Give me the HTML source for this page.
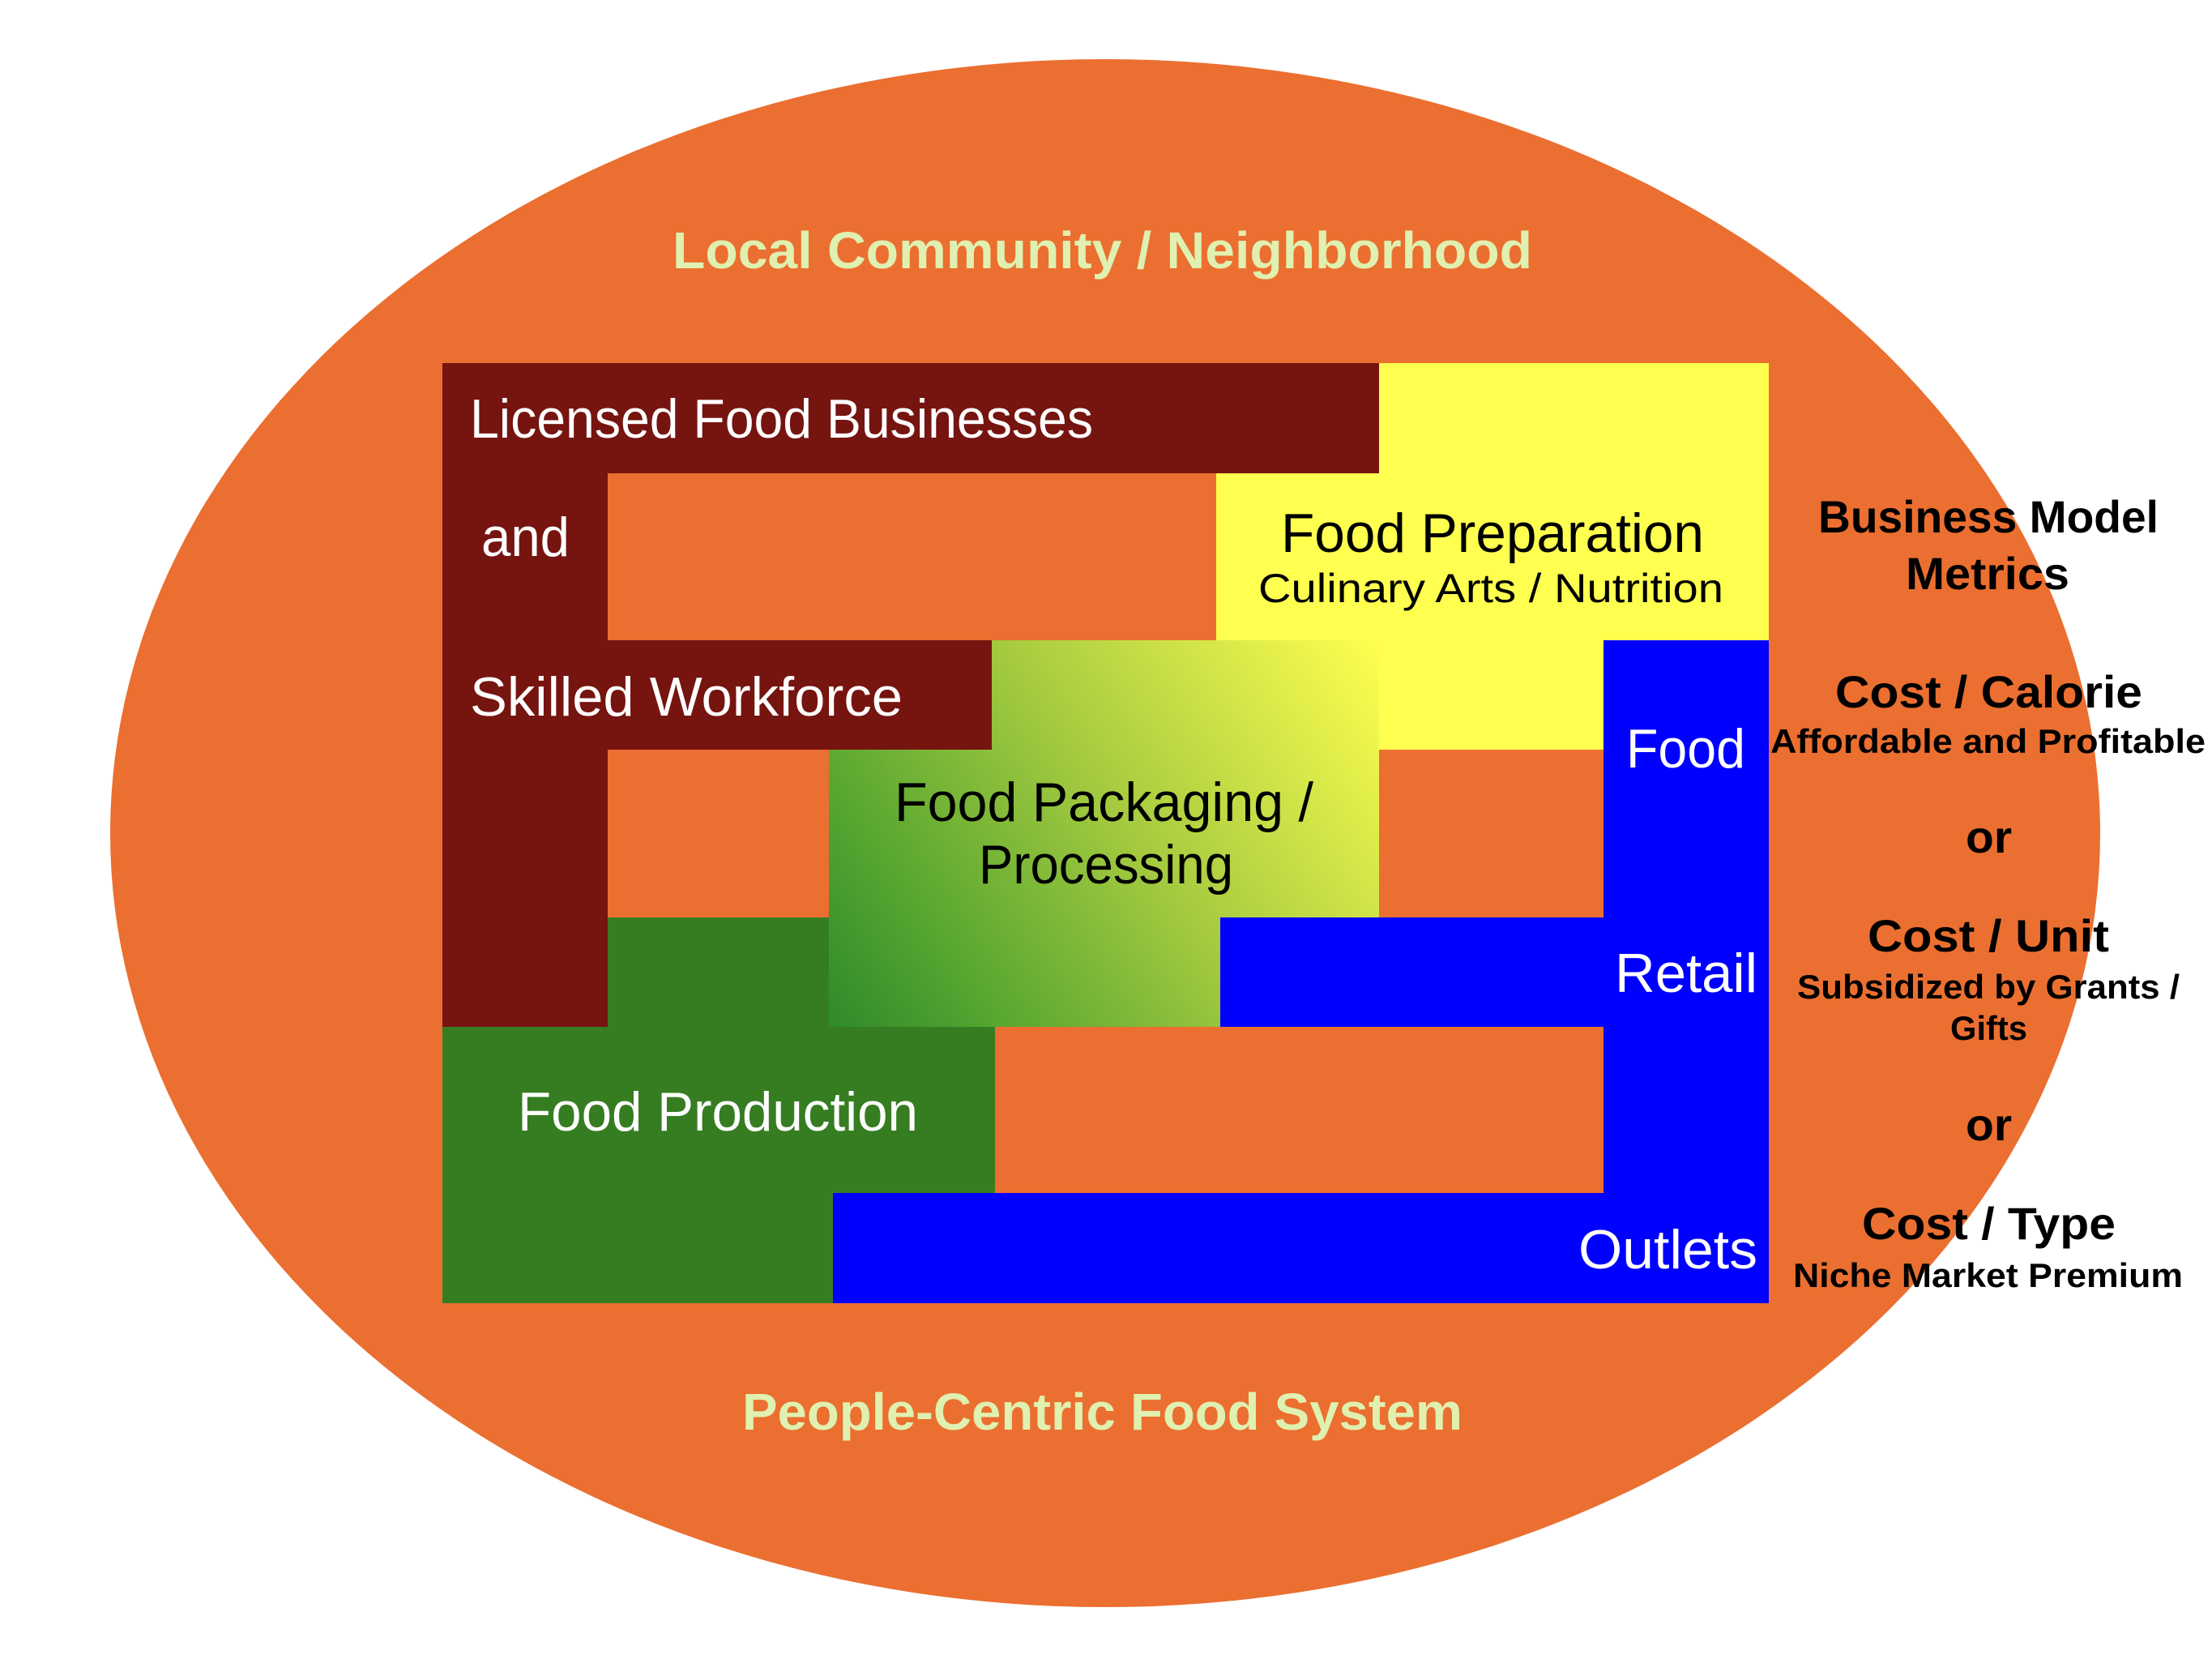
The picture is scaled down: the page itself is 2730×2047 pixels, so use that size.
<!DOCTYPE html>
<html><head><meta charset="utf-8"><style>html,body{margin:0;padding:0;background:#fff}svg{display:block}</style></head>
<body>
<svg width="2730" height="2047" viewBox="0 0 2730 2047" xmlns="http://www.w3.org/2000/svg">
<defs>
<linearGradient id="g" x1="1023" y1="1267" x2="1702" y2="790" gradientUnits="userSpaceOnUse">
<stop offset="0" stop-color="#2f8a2a"/>
<stop offset="0.2" stop-color="#55a530"/>
<stop offset="0.55" stop-color="#a8cc40"/>
<stop offset="1" stop-color="#ffff50"/>
</linearGradient>
</defs>
<ellipse cx="1364" cy="1028" rx="1228" ry="955" fill="#eb6f30"/>
<!-- yellow -->
<rect x="1702" y="448" width="481" height="136" fill="#ffff50"/>
<rect x="1501" y="584" width="682" height="206" fill="#ffff50"/>
<rect x="1702" y="790" width="277" height="135" fill="#ffff50"/>
<!-- gradient -->
<rect x="1023" y="790" width="679" height="477" fill="url(#g)"/>
<!-- dark red -->
<rect x="546" y="448" width="1156" height="136" fill="#761410"/>
<rect x="546" y="448" width="204" height="819" fill="#761410"/>
<rect x="546" y="790" width="678" height="135" fill="#761410"/>
<!-- green -->
<rect x="750" y="1132" width="273" height="135" fill="#367d22"/>
<rect x="546" y="1267" width="682" height="205" fill="#367d22"/>
<rect x="546" y="1472" width="482" height="136" fill="#367d22"/>
<!-- blue -->
<rect x="1979" y="790" width="204" height="818" fill="#0000ff"/>
<rect x="1506" y="1132" width="677" height="135" fill="#0000ff"/>
<rect x="1028" y="1472" width="1155" height="136" fill="#0000ff"/>

<g font-family="Liberation Sans, sans-serif" lengthAdjust="spacingAndGlyphs">
<text x="830" y="331" font-size="64" font-weight="bold" fill="#dff0b0" textLength="1061" lengthAdjust="spacingAndGlyphs">Local Community / Neighborhood</text>
<text x="916" y="1764" font-size="64" font-weight="bold" fill="#dff0b0" textLength="889" lengthAdjust="spacingAndGlyphs">People-Centric Food System</text>

<g fill="#fff" font-size="68">
<text x="580" y="540" textLength="769" lengthAdjust="spacingAndGlyphs">Licensed Food Businesses</text>
<text x="594" y="686" textLength="109" lengthAdjust="spacingAndGlyphs">and</text>
<text x="580" y="883" textLength="534" lengthAdjust="spacingAndGlyphs">Skilled Workforce</text>
<text x="639" y="1395" textLength="494" lengthAdjust="spacingAndGlyphs">Food Production</text>
<text x="2007" y="947" textLength="147" lengthAdjust="spacingAndGlyphs">Food</text>
<text x="1993" y="1224" textLength="176" lengthAdjust="spacingAndGlyphs">Retail</text>
<text x="1948" y="1565" textLength="221" lengthAdjust="spacingAndGlyphs">Outlets</text>
</g>
<g fill="#000">
<text x="1581" y="681" font-size="68" textLength="522" lengthAdjust="spacingAndGlyphs">Food Preparation</text>
<text x="1553" y="743" font-size="50" textLength="574" lengthAdjust="spacingAndGlyphs">Culinary Arts / Nutrition</text>
<text x="1104" y="1013" font-size="68" textLength="517" lengthAdjust="spacingAndGlyphs">Food Packaging /</text>
<text x="1208" y="1090" font-size="68" textLength="314" lengthAdjust="spacingAndGlyphs">Processing</text>
</g>
<g fill="#000" font-weight="bold">
<text x="2244" y="657" font-size="56" textLength="420" lengthAdjust="spacingAndGlyphs">Business Model</text>
<text x="2352" y="727" font-size="56" textLength="202" lengthAdjust="spacingAndGlyphs">Metrics</text>
<text x="2265" y="873" font-size="56" textLength="379" lengthAdjust="spacingAndGlyphs">Cost / Calorie</text>
<text x="2185" y="929" font-size="42" textLength="537" lengthAdjust="spacingAndGlyphs">Affordable and Profitable</text>
<text x="2426" y="1052" font-size="56" textLength="57" lengthAdjust="spacingAndGlyphs">or</text>
<text x="2305" y="1174" font-size="56" textLength="298" lengthAdjust="spacingAndGlyphs">Cost / Unit</text>
<text x="2218" y="1232" font-size="42" textLength="472" lengthAdjust="spacingAndGlyphs">Subsidized by Grants /</text>
<text x="2407" y="1283" font-size="42" textLength="95" lengthAdjust="spacingAndGlyphs">Gifts</text>
<text x="2426" y="1407" font-size="56" textLength="57" lengthAdjust="spacingAndGlyphs">or</text>
<text x="2298" y="1529" font-size="56" textLength="313" lengthAdjust="spacingAndGlyphs">Cost / Type</text>
<text x="2213" y="1588" font-size="42" textLength="481" lengthAdjust="spacingAndGlyphs">Niche Market Premium</text>
</g>
</g>
</svg>
</body></html>
